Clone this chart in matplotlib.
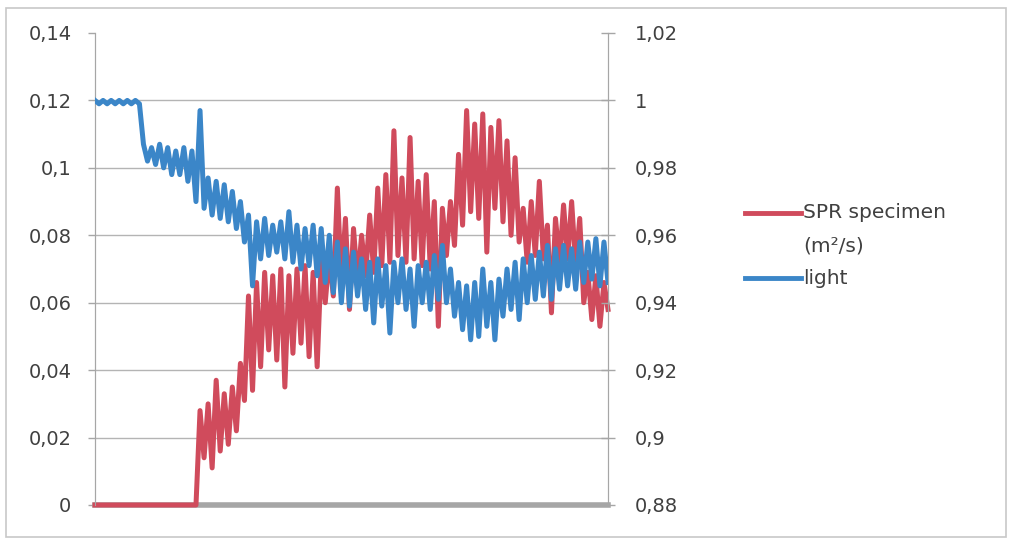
import matplotlib.pyplot as plt
from matplotlib.lines import Line2D
from matplotlib.patches import Rectangle

# readings taken off the chart, one sample every ~4 px of the x axis
spr = [0, 0, 0, 0, 0, 0, 0, 0, 0, 0,
       0, 0, 0, 0, 0, 0, 0, 0, 0, 0,
       0, 0, 0, 0, 0, 0, 0.028, 0.014, 0.030, 0.011,
       0.037, 0.016, 0.033, 0.018, 0.035, 0.022, 0.042, 0.031, 0.062, 0.034,
       0.066, 0.041, 0.069, 0.046, 0.068, 0.043, 0.070, 0.035, 0.068, 0.045,
       0.070, 0.048, 0.071, 0.044, 0.069, 0.041, 0.072, 0.060, 0.074, 0.062,
       0.094, 0.066, 0.085, 0.058, 0.082, 0.066, 0.080, 0.068, 0.086, 0.069,
       0.094, 0.071, 0.098, 0.072, 0.111, 0.074, 0.097, 0.072, 0.109, 0.073,
       0.096, 0.071, 0.098, 0.070, 0.090, 0.053, 0.088, 0.074, 0.090, 0.077,
       0.104, 0.083, 0.117, 0.087, 0.113, 0.085, 0.116, 0.075, 0.112, 0.088,
       0.114, 0.084, 0.108, 0.080, 0.103, 0.078, 0.088, 0.072, 0.090, 0.074,
       0.096, 0.073, 0.083, 0.057, 0.085, 0.072, 0.089, 0.073, 0.090, 0.071,
       0.085, 0.060, 0.069, 0.055, 0.068, 0.053, 0.066, 0.058]

light = [1.000, 0.999, 1.000, 0.999, 1.000, 0.999, 1.000, 0.999, 1.000, 0.999,
         1.000, 0.999, 0.987, 0.982, 0.986, 0.981, 0.987, 0.980, 0.986, 0.978,
         0.985, 0.978, 0.986, 0.976, 0.985, 0.970, 0.997, 0.968, 0.977, 0.966,
         0.976, 0.965, 0.975, 0.964, 0.973, 0.962, 0.970, 0.958, 0.966, 0.945,
         0.964, 0.953, 0.965, 0.954, 0.963, 0.955, 0.964, 0.953, 0.967, 0.952,
         0.963, 0.950, 0.962, 0.951, 0.963, 0.948, 0.962, 0.946, 0.960, 0.943,
         0.958, 0.940, 0.956, 0.939, 0.955, 0.942, 0.953, 0.938, 0.952, 0.934,
         0.953, 0.939, 0.951, 0.931, 0.952, 0.940, 0.953, 0.938, 0.950, 0.933,
         0.951, 0.940, 0.952, 0.938, 0.954, 0.941, 0.957, 0.940, 0.950, 0.936,
         0.946, 0.932, 0.945, 0.929, 0.946, 0.930, 0.950, 0.933, 0.946, 0.929,
         0.947, 0.936, 0.950, 0.938, 0.952, 0.935, 0.953, 0.940, 0.954, 0.941,
         0.955, 0.942, 0.957, 0.941, 0.956, 0.944, 0.957, 0.945, 0.956, 0.944,
         0.958, 0.946, 0.958, 0.947, 0.959, 0.945, 0.958, 0.946]

left_ticks = [0, 0.02, 0.04, 0.06, 0.08, 0.10, 0.12, 0.14]
left_labels = ["0", "0,02", "0,04", "0,06", "0,08", "0,1", "0,12", "0,14"]
right_ticks = [0.88, 0.90, 0.92, 0.94, 0.96, 0.98, 1.00, 1.02]
right_labels = ["0,88", "0,9", "0,92", "0,94", "0,96", "0,98", "1", "1,02"]
legend_labels = ["SPR specimen", "(m\u00b2/s)", "light"]

red = "#d04b5c"
blue = "#3b86c8"
grey = "#a6a6a6"
text_col = "#404040"

plt.rcParams['font.family'] = ['DejaVu Sans']

fig = plt.figure(figsize=(10.12, 5.4), dpi=100)
fig.patches.append(Rectangle((6 / 1012, 3 / 540), 1000 / 1012, 529 / 540,
                             transform=fig.transFigure, fill=False,
                             edgecolor="#c8c8c8", linewidth=1.2))

ax = fig.add_axes([95 / 1012, 35 / 540, 513 / 1012, 472 / 540])
ax2 = ax.twinx()

x = range(len(spr))
ax.plot(x, spr, color=red, linewidth=3.6, solid_joinstyle="round",
        zorder=5, clip_on=False)
ax2.plot(x, light, color=blue, linewidth=3.6, solid_joinstyle="round", zorder=5)

ax.set_xlim(0, len(spr) - 1)
ax.set_ylim(0, 0.14)
ax2.set_ylim(0.88, 1.02)

for yv in left_ticks[1:-1]:
    ax.axhline(yv, color="#b4b4b4", linewidth=1, zorder=0)

ax.set_yticks(left_ticks)
ax.set_yticklabels(left_labels)
ax2.set_yticks(right_ticks)
ax2.set_yticklabels(right_labels)
ax.set_xticks([])

ax.tick_params(axis="y", direction="out", length=5, width=1, color=grey,
               labelsize=14, labelcolor=text_col, pad=12)
ax2.tick_params(axis="y", direction="inout", length=10, width=1, color=grey,
                labelsize=14, labelcolor=text_col, pad=14)

for a in (ax, ax2):
    a.spines["top"].set_visible(False)
    a.spines["left"].set_color(grey)
    a.spines["right"].set_color(grey)
    a.spines["bottom"].set_color(grey)
    a.spines["bottom"].set_linewidth(4)
    a.spines["bottom"].set_zorder(1)
ax2.spines["bottom"].set_visible(False)

# legend drawn by hand: the handle sits on the first line of a two-line label
W, H = 1012, 540
for (y_px, col) in [(213, red), (278, blue)]:
    fig.add_artist(Line2D([745 / W, 801 / W], [1 - y_px / H, 1 - y_px / H],
                          color=col, linewidth=3.5, transform=fig.transFigure))
for lab, y_px in zip(legend_labels, [213, 246, 278]):
    fig.text(803 / W, 1 - y_px / H, lab, fontsize=14.5, color=text_col,
             ha="left", va="center")

fig.savefig("out.png", dpi=100)
